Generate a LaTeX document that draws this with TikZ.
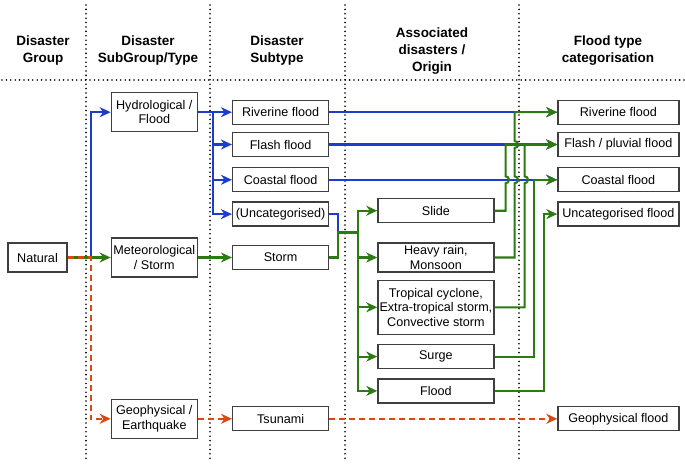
\documentclass[tikz,border=0pt]{standalone}
\usepackage{fontspec}
\setmainfont{Liberation Sans}
\usetikzlibrary{arrows.meta, positioning, calc}
\definecolor{FlowBlue}{HTML}{1C3DCB}
\definecolor{FlowGreen}{HTML}{2D7A12}
\definecolor{FlowOrange}{HTML}{D9480F}
\definecolor{BoxLine}{HTML}{3F3F3F}

\begin{document}
\begin{tikzpicture}[x=1pt, y=1pt,
      box/.style={draw=BoxLine, fill=white, line width=1.3pt, minimum height=24pt,
                  inner xsep=1.5pt, inner ysep=2pt, align=center,
                  font=\fontsize{12.6}{14.5}\selectfont},
      colhead/.style={font=\fontsize{13.5}{17}\selectfont\bfseries, align=center},
      sep/.style={line width=1.8pt, dash pattern=on 0pt off 4.4pt, line cap=round},
      link/.style={line width=2.1pt, -{Stealth[length=11pt,width=10pt,inset=3.5pt]}},
      blu/.style={link, FlowBlue},
      grn/.style={link, FlowGreen},
      quake/.style={link, FlowOrange, dash pattern=on 6pt off 4pt},
      jump/.style={start angle=-90, end angle=90, radius=3.5pt}
    ]

    \useasboundingbox (0,0) rectangle (685,-468);

    \foreach \x in {86,210,345,519}
      \draw[sep] (\x,-5) -- (\x,-462);
    \draw[sep] (2,-80) -- (685,-80);

    \node[colhead] (hgrp) at (43,-51)  {Disaster\\Group};
    \node[colhead] (hsub) at (148,-51) {Disaster\\SubGroup/Type};
    \node[colhead] (hsty) at (277,-51) {Disaster\\Subtype};
    \node[colhead] (hori) at (432,-51) {Associated\\disasters /\\Origin};
    \node[colhead] (hcat) at (608,-51) {Flood type\\categorisation};

    \node[box, minimum width=59pt, minimum height=29pt] (nat) at (37.5,-257.5) {Natural};

    \node[box, minimum width=86pt, minimum height=39pt, right=43pt of nat]  (met) {Meteorological\\/ Storm};
    \node[box, minimum width=86pt, minimum height=39pt, above=105pt of met] (hyd) {Hydrological /\\Flood};
    \node[box, minimum width=86pt, minimum height=39pt, below=121pt of met] (geo) {Geophysical /\\Earthquake};

    \node[box, minimum width=96pt, right=34pt of hyd] (riv) {Riverine flood};
    \node[box, minimum width=96pt, below=7pt of riv]  (fla) {Flash flood};
    \node[box, minimum width=96pt, below=10pt of fla] (coa) {Coastal flood};
    \node[box, minimum width=96pt, below=9pt of coa]  (unc) {(Uncategorised)};
    \node[box, minimum width=96pt, right=34pt of met] (sto) {Storm};
    \node[box, minimum width=96pt, right=34pt of geo] (tsu) {Tsunami};

    \node[box, minimum width=116pt, minimum height=29pt, right=48pt of sto] (rain) {Heavy rain,\\Monsoon};
    \node[box, minimum width=116pt, above=19pt of rain] (sli) {Slide};
    \node[box, minimum width=116pt, minimum height=54pt, below=7pt of rain] (cyc)
      {Tropical cyclone,\\Extra-tropical storm,\\Convective storm};
    \node[box, minimum width=116pt, below=9pt of cyc] (sur) {Surge};
    \node[box, minimum width=116pt, below=9pt of sur] (flo) {Flood};

    \node[box, minimum width=121pt, right=228pt of riv] (oriv) {Riverine flood};
    \node[box, minimum width=121pt, right=228pt of fla] (ofla) {Flash / pluvial flood};
    \node[box, minimum width=121pt, right=228pt of coa] (ocoa) {Coastal flood};
    \node[box, minimum width=121pt, right=228pt of unc] (ounc) {Uncategorised flood};
    \node[box, minimum width=121pt, right=228pt of tsu] (ogeo) {Geophysical flood};

    \coordinate (hub) at ($(sto.east)+(29,25)$);
    \path (sli.east) ++(11,0) coordinate (vsli)
          (rain.east) ++(20,0) coordinate (vrain)
          (cyc.east) ++(30,0) coordinate (vcyc);
    \coordinate (jsli)   at (vsli |- coa);
    \coordinate (jraina) at (vrain |- coa);
    \coordinate (jrainb) at (vrain |- fla);
    \coordinate (jcyc)   at (vcyc |- coa);

    \draw[blu] (nat.east) -- ++(23,0) |- (hyd.west);
    \foreach \n in {riv,fla,coa,unc}
      \draw[blu] (hyd.east) -- ++(15,0) |- (\n.west);
    \draw[blu] (riv) -- (oriv);
    \draw[blu] (fla) -- (ofla);
    \draw[blu] (coa) -- (ocoa);
    \draw[FlowBlue, line width=2.1pt] (unc.east) -- ++(9,0) |- (hub);

    \draw[grn] (nat) -- (met);
    \draw[grn] (met) -- (sto);
    \draw[FlowGreen, line width=2.1pt] (sto.east) -- ++(9,0) |- (hub);
    \foreach \n in {sli,rain,cyc,sur,flo}
      \draw[grn] (hub) |- (\n.west);

    \draw[grn] (sli.east) -| ([yshift=-3.5pt]jsli) arc[jump] |- (ofla.west);
    \draw[grn] (rain.east) -| ([yshift=-3.5pt]jraina) arc[jump]
               -- ([yshift=-3.5pt]jrainb) arc[jump] |- (oriv.west);
    \draw[grn] (cyc.east) -| ([yshift=-3.5pt]jcyc) arc[jump] |- (ofla.west);
    \draw[grn] (sur.east) -- ++(39,0) |- (ocoa.west);
    \draw[grn] (flo.east) -- ++(49,0) |- (ounc.west);

    \draw[quake] (nat.east) -- ++(23,0) |- (geo.west);
    \draw[quake] (geo) -- (tsu);
    \draw[quake] (tsu) -- (ogeo);

  \end{tikzpicture}
\end{document}
